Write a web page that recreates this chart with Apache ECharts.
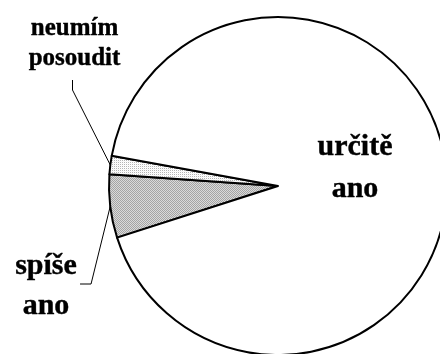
<!DOCTYPE html>
<html>
<head>
<meta charset="utf-8">
<script src="https://cdn.jsdelivr.net/npm/echarts@6/dist/echarts.min.js"></script>
<style>html,body{margin:0;padding:0;background:#fff;}#chart{width:440px;height:354px;}</style>
</head>
<body>
<div id="chart"></div>
<script>
// Data (percent shares)
const categories = ['spíše ano', 'neumím posoudit', 'určitě ano'];
const values = [6.05, 1.75, 92.2];
const labelTexts = ['spíše\nano', 'neumím\nposoudit', 'určitě\nano'];

function makePattern(cells) {
  const c = document.createElement('canvas');
  c.width = 2; c.height = 2;
  const ctx = c.getContext('2d');
  for (let i = 0; i < 4; i++) {
    ctx.fillStyle = cells[i];
    ctx.fillRect(i % 2, Math.floor(i / 2), 1, 1);
  }
  return c;
}
const darkPat = makePattern(['#a4a4a4', '#dadada', '#dadada', '#a4a4a4']);
const lightPat = makePattern(['#b4b4b4', '#ffffff', '#ffffff', '#f4f4f4']);

const fills = [
  { image: darkPat, repeat: 'repeat' },
  { image: lightPat, repeat: 'repeat' },
  '#ffffff'
];
const labelCfg = [
  { x: 46, y: 286, size: 30, lh: 40 },
  { x: 74.5, y: 44, size: 25, lh: 30 },
  { x: 355, y: 168, size: 30, lh: 42 }
];

const chart = echarts.init(document.getElementById('chart'), null, { renderer: 'canvas' });
const data = categories.map((name, i) => ({
  name: name,
  value: values[i],
  itemStyle: { color: fills[i] },
  label: { fontSize: labelCfg[i].size, lineHeight: labelCfg[i].lh },
  labelLine: { show: i < 2 }
}));

chart.setOption({
  animation: false,
  backgroundColor: '#ffffff',
  series: [{
    type: 'pie',
    center: [278, 186],
    radius: 169,
    startAngle: 197.8,
    clockwise: true,
    avoidLabelOverlap: false,
    itemStyle: { borderColor: '#000', borderWidth: 2 },
    label: {
      show: true,
      position: 'outside',
      formatter: p => labelTexts[p.dataIndex],
      fontFamily: '"Liberation Serif", "Times New Roman", serif',
      fontWeight: 'bold',
      color: '#000',
      textBorderColor: '#000',
      textBorderWidth: 0.4,
      align: 'center'
    },
    labelLine: { show: true, length: 10, length2: 10, lineStyle: { color: '#000', width: 1 } },
    emphasis: { disabled: true },
    labelLayout: function (p) {
      const L = labelCfg[p.dataIndex];
      const w = p.labelRect.width, h = p.labelRect.height;
      const res = { x: L.x, y: L.y, align: 'center', verticalAlign: 'middle' };
      const pts = p.labelLinePoints;
      if (pts && pts.length) {
        const e = pts[0];
        if (p.dataIndex === 1) {
          const lx = L.x - 2, ly = L.y + h / 2 + 6;
          res.labelLinePoints = [e, [lx, ly + 10], [lx, ly]];
        } else if (p.dataIndex === 0) {
          const rx = L.x + w / 2, by = L.y - h / 2 + 38;
          res.labelLinePoints = [e, [rx + 14, by], [rx + 3, by]];
        }
      }
      return res;
    },
    data: data
  }]
});
</script>
</body>
</html>
